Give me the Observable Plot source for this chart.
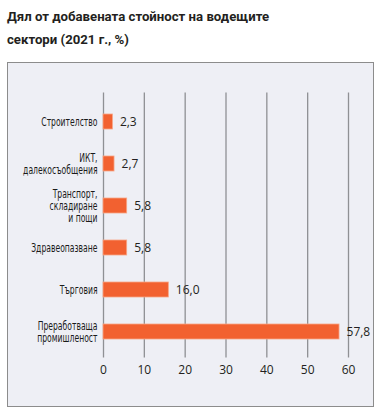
<!DOCTYPE html>
<html>
<head>
<meta charset="utf-8">
<script src="https://cdn.jsdelivr.net/npm/d3@7"></script>
<script src="https://cdn.jsdelivr.net/npm/@observablehq/plot@0.6"></script>
<style>
  html, body { margin: 0; padding: 0; background: #fff; }
  #title { position: absolute; left: 7px; top: 5px; font-family: Roboto, "Open Sans", sans-serif; font-weight: bold; font-size: 13.2px; line-height: 23px; color: #231f20; }
  #box { position: absolute; left: 7px; top: 62px; width: 365px; height: 343px; border: 1.5px solid #8c8c8c; background: #eeeff5; }
  #box svg { display: block; background: transparent; }
</style>
</head>
<body>
<div id="title">Дял от добавената стойност на водещите<br>сектори (2021 г., %)</div>
<div id="box"></div>
<script>
const categories = [
  "Строителство",
  "ИКТ,\nдалекосъобщения",
  "Транспорт,\nскладиране\nи пощи",
  "Здравеопазване",
  "Търговия",
  "Преработваща\nпромишленост"
];
const values = [2.3, 2.7, 5.8, 5.8, 16.0, 57.8];
const xTicks = [0, 10, 20, 30, 40, 50, 60];

const data = categories.map((c, i) => ({category: c, value: values[i]}));
const fmt = v => v.toFixed(1).replace(".", ",");

const chart = Plot.plot({
  width: 365,
  height: 343,
  marginLeft: 95,
  marginRight: 25,
  marginTop: 29.5,
  marginBottom: 48.5,
  style: {background: "transparent", color: "#231f20"},
  x: {domain: [0, 60], ticks: xTicks},
  y: {domain: categories, paddingInner: 0.636, paddingOuter: 0.4325, align: 0.55},
  marks: [
    Plot.gridX(xTicks, {stroke: "#8f9094", strokeOpacity: 1, strokeWidth: 1.3}),
    Plot.barX(data, {x: "value", y: "category", fill: "#f26130", stroke: "#f7a585", strokeWidth: 0.8}),
    Plot.text(data, {x: "value", y: "category", text: d => fmt(d.value), textAnchor: "start", dx: 7, fontSize: 12, fill: "#231f20", fontFamily: "'Open Sans', sans-serif"}),
    Plot.axisY({className: "yax", tickSize: 0, tickPadding: 6, fontSize: 11.5, lineHeight: 1.08, fontFamily: "'DejaVu Sans Condensed', 'DejaVu Sans', sans-serif", fill: "#1a1a1a", label: null}),
    Plot.axisX(xTicks, {tickSize: 0, tickPadding: 7, fontSize: 12, fontFamily: "'Open Sans', sans-serif", fill: "#231f20", label: null})
  ]
});
// narrow the category labels horizontally, keeping their right edge in place
d3.select(chart).selectAll(".yax text").each(function() {
  const t = this.getAttribute("transform");
  if (t) {
    this.setAttribute("transform", t + " scale(0.74,1)");
  } else {
    const x = +(this.getAttribute("x") || 0);
    this.setAttribute("transform", `translate(${x},0) scale(0.74,1) translate(${-x},0)`);
  }
});
document.getElementById("box").appendChild(chart);
</script>
</body>
</html>
